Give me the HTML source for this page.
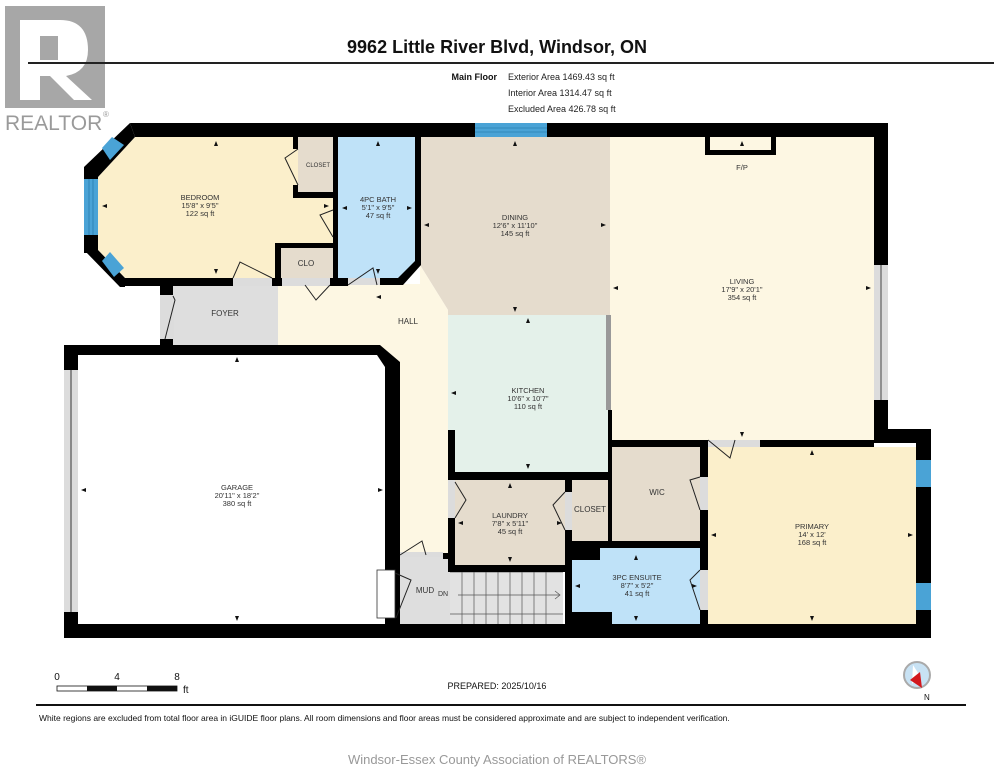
<!DOCTYPE html>
<html><head><meta charset="utf-8"><style>
html,body{margin:0;padding:0;background:#fff;}
svg{display:block;font-family:"Liberation Sans",Arial,sans-serif;}
.l{font-size:7.5px;fill:#333;text-anchor:middle;}
</style></head><body>
<svg width="994" height="768" viewBox="0 0 994 768" xmlns="http://www.w3.org/2000/svg">
<!-- logo -->
<rect x="5" y="6" width="100" height="102" fill="#a7a7a7"/>
<path d="M20,20 H60 Q88,20 88,50 Q88,72 66,76 L92,100 H74 L50,76 H40 V100 H20 Z" fill="#fff"/>
<rect x="40" y="36" width="18" height="24" fill="#a7a7a7"/>
<text x="5" y="130" font-size="21" fill="#9a9a9a">REALTOR</text><text x="103" y="117" font-size="8" fill="#9a9a9a">®</text>
<!-- header -->
<text x="497" y="53" font-size="18" font-weight="bold" text-anchor="middle" fill="#111">9962 Little River Blvd, Windsor, ON</text>
<rect x="28" y="62" width="966" height="2" fill="#222"/>
<text x="497" y="80" font-size="9" font-weight="bold" text-anchor="end" fill="#111">Main Floor</text>
<text x="508" y="80" font-size="9" fill="#222">Exterior Area 1469.43 sq ft</text>
<text x="508" y="96" font-size="9" fill="#222">Interior Area 1314.47 sq ft</text>
<text x="508" y="112" font-size="9" fill="#222">Excluded Area 426.78 sq ft</text>

<!-- room fills -->
<polygon points="135,137 333,137 333,278 125,278 98,250 98,177" fill="#fbefcb"/>
<rect x="298" y="137" width="35" height="58" fill="#e5dccd"/>
<polygon points="338,137 415,137 415,263 400,278 338,278" fill="#bfe2f8"/>
<rect x="281" y="248" width="52" height="30" fill="#e5dccd"/>
<polygon points="420,137 610,137 610,315 448,315 448,310 420,265" fill="#e5dccd"/>
<polygon points="278,284 420,284 420,265 448,310 448,555 400,555 400,365 380,345 278,345" fill="#fdf7e3"/>
<rect x="160" y="284" width="118" height="61" fill="#dedede"/>
<rect x="448" y="315" width="160" height="157" fill="#e4f1ea"/>
<rect x="610" y="137" width="264" height="303" fill="#fdf7e3"/>
<rect x="455" y="480" width="110" height="85" fill="#e5dccd"/>
<rect x="572" y="480" width="36" height="65" fill="#e5dccd"/>
<rect x="612" y="447" width="88" height="95" fill="#e5dccd"/>
<rect x="708" y="447" width="208" height="177" fill="#fbefcb"/>
<rect x="572" y="548" width="128" height="76" fill="#bfe2f8"/>
<rect x="400" y="555" width="50" height="69" fill="#dedede"/>
<rect x="450" y="572" width="113" height="52" fill="#e2e2e2"/>
<rect x="78" y="355" width="307" height="269" fill="#fff"/>
<!-- door openings (light gray) -->
<g fill="#dcdcdc">
<rect x="233" y="278" width="39" height="8"/><rect x="282" y="278" width="48" height="8"/><rect x="348" y="278" width="32" height="7"/>
<rect x="160" y="295" width="14" height="44"/><rect x="708" y="440" width="52" height="7"/>
<rect x="565" y="492" width="7" height="38"/><rect x="700" y="477" width="8" height="33"/><rect x="700" y="570" width="8" height="40"/>
<rect x="448" y="480" width="7" height="38"/><rect x="400" y="552" width="43" height="5"/><rect x="333" y="247" width="5" height="-0"/>
</g>
<!-- stairs -->
<g stroke="#555" stroke-width="0.7">
<line x1="450" y1="572" x2="563" y2="572"/><line x1="450" y1="614" x2="563" y2="614"/>
<line x1="462" y1="572" x2="462" y2="624"/><line x1="474" y1="572" x2="474" y2="624"/><line x1="486" y1="572" x2="486" y2="624"/><line x1="498" y1="572" x2="498" y2="624"/><line x1="510" y1="572" x2="510" y2="624"/><line x1="522" y1="572" x2="522" y2="624"/><line x1="534" y1="572" x2="534" y2="624"/><line x1="546" y1="572" x2="546" y2="624"/>
<line x1="458" y1="595" x2="560" y2="595"/><polyline points="555,591 560,595 555,599" fill="none"/>
</g>

<!-- walls -->
<g fill="#000">
<polygon points="130,123 888,123 888,137 135,137"/>
<polygon points="130,123 135,137 98,177 84,167"/>
<rect x="84" y="167" width="14" height="86"/>
<polygon points="84,250 98,250 125,278 125,287 120,287"/>
<rect x="120" y="278" width="113" height="8"/>
<rect x="272" y="278" width="10" height="8"/>
<rect x="275" y="243" width="63" height="5"/><rect x="275" y="243" width="6" height="43"/>
<rect x="330" y="278" width="18" height="8"/>
<rect x="333" y="137" width="5" height="110"/><rect x="333" y="237" width="5" height="48"/>
<rect x="293" y="137" width="5" height="12"/><rect x="293" y="185" width="5" height="13"/><rect x="293" y="192" width="45" height="6"/>
<rect x="380" y="278" width="23" height="7"/>
<polygon points="415,137 421,137 421,265 403,285 398,278 415,261"/>
<rect x="160" y="284" width="13" height="11"/><rect x="160" y="339" width="13" height="6"/>
<polygon points="64,345 380,345 400,362 400,555 385,555 385,367 377,355 64,355"/>
<rect x="64" y="345" width="14" height="25"/><rect x="64" y="612" width="14" height="12"/>
<rect x="64" y="624" width="867" height="14"/>
<rect x="874" y="123" width="14" height="142"/><rect x="874" y="400" width="14" height="40"/>
<rect x="874" y="429" width="57" height="14"/>
<rect x="916" y="429" width="15" height="31"/><rect x="916" y="487" width="15" height="96"/><rect x="916" y="610" width="15" height="20"/>
<rect x="608" y="440" width="100" height="7"/><rect x="760" y="440" width="114" height="7"/>
<rect x="608" y="410" width="4" height="135"/>
<rect x="448" y="430" width="7" height="50"/><rect x="448" y="472" width="160" height="8"/>
<rect x="448" y="518" width="7" height="54"/><rect x="448" y="565" width="117" height="7"/>
<rect x="565" y="480" width="7" height="12"/><rect x="565" y="530" width="7" height="94"/>
<rect x="565" y="541" width="143" height="7"/><rect x="565" y="541" width="35" height="19"/>
<rect x="700" y="447" width="8" height="30"/><rect x="700" y="510" width="8" height="60"/><rect x="700" y="610" width="8" height="14"/>
<rect x="572" y="612" width="40" height="12"/>
<rect x="385" y="555" width="15" height="69"/><rect x="443" y="553" width="7" height="6"/>
<rect x="705" y="137" width="71" height="18"/>
</g>
<rect x="710" y="137" width="61" height="13" fill="#fdf7e3"/>
<!-- windows & openings -->
<g fill="#4aa3d6"><rect x="475" y="123" width="72" height="14"/><rect x="84" y="179" width="14" height="56"/>
<polygon points="102,148 112,137 124,145 110,160"/><polygon points="102,261 110,252 124,268 114,277"/>
<rect x="916" y="460" width="15" height="27"/><rect x="916" y="583" width="15" height="27"/></g>
<g stroke="#1d6fa0" stroke-width="0.6"><line x1="475" y1="128" x2="547" y2="128"/><line x1="475" y1="132" x2="547" y2="132"/><line x1="89" y1="179" x2="89" y2="235"/><line x1="93" y1="179" x2="93" y2="235"/></g>
<rect x="874" y="265" width="14" height="135" fill="#dcdcdc"/><line x1="881" y1="265" x2="881" y2="400" stroke="#444"/>
<rect x="64" y="370" width="14" height="242" fill="#dcdcdc"/><line x1="71" y1="370" x2="71" y2="612" stroke="#333"/>
<rect x="606" y="315" width="5" height="95" fill="#999"/>
<rect x="377" y="570" width="18" height="48" fill="#fff" stroke="#333" stroke-width="0.8"/>
<!-- doors -->
<g fill="none" stroke="#222" stroke-width="1">
<polyline points="233,278 240,262 272,278"/><polyline points="298,149 285,158 298,185"/>
<polyline points="333,210 320,215 333,237"/><polyline points="305,285 316,300 330,285"/>
<polyline points="348,285 373,268 377,285"/><polyline points="173,296 175,300 165,339"/>
<polyline points="400,555 422,541 426,555"/><polyline points="395,573 411,580 396,618"/>
<polyline points="455,482 466,500 455,518"/><polyline points="565,492 553,505 565,530"/>
<polyline points="700,477 690,480 700,510"/><polyline points="708,440 730,458 735,440"/>
<polyline points="700,570 690,580 700,610"/>
</g>
<!-- labels -->
<g class="l">
<text x="200" y="200">BEDROOM</text><text x="200" y="208">15'8" x 9'5"</text><text x="200" y="216">122 sq ft</text>
<text x="318" y="167" font-size="6">CLOSET</text>
<text x="378" y="202">4PC BATH</text><text x="378" y="210">5'1" x 9'5"</text><text x="378" y="218">47 sq ft</text>
<text x="515" y="220">DINING</text><text x="515" y="228">12'6" x 11'10"</text><text x="515" y="236">145 sq ft</text>
<text x="306" y="266" font-size="8">CLO</text>
<text x="225" y="316" font-size="8">FOYER</text>
<text x="408" y="324" font-size="8">HALL</text>
<text x="742" y="284">LIVING</text><text x="742" y="292">17'9" x 20'1"</text><text x="742" y="300">354 sq ft</text>
<text x="742" y="170">F/P</text>
<text x="528" y="393">KITCHEN</text><text x="528" y="401">10'6" x 10'7"</text><text x="528" y="409">110 sq ft</text>
<text x="237" y="490">GARAGE</text><text x="237" y="498">20'11" x 18'2"</text><text x="237" y="506">380 sq ft</text>
<text x="510" y="518">LAUNDRY</text><text x="510" y="526">7'8" x 5'11"</text><text x="510" y="534">45 sq ft</text>
<text x="590" y="512" font-size="8">CLOSET</text>
<text x="657" y="495" font-size="8">WIC</text>
<text x="812" y="529">PRIMARY</text><text x="812" y="537">14' x 12'</text><text x="812" y="545">168 sq ft</text>
<text x="637" y="580">3PC ENSUITE</text><text x="637" y="588">8'7" x 5'2"</text><text x="637" y="596">41 sq ft</text>
<text x="425" y="593" font-size="8">MUD</text><text x="443" y="596" font-size="7">DN</text>
</g>
<!-- dimension arrows -->
<g fill="#111">
<path d="M216,141l-2,5h4z"/><path d="M216,274l-2,-5h4z"/><path d="M102,206l5,-2v4z"/><path d="M329,206l-5,-2v4z"/>
<path d="M378,141l-2,5h4z"/><path d="M378,274l-2,-5h4z"/><path d="M342,208l5,-2v4z"/><path d="M412,208l-5,-2v4z"/>
<path d="M515,141l-2,5h4z"/><path d="M515,312l-2,-5h4z"/><path d="M424,225l5,-2v4z"/><path d="M606,225l-5,-2v4z"/>
<path d="M742,141l-2,5h4z"/><path d="M742,437l-2,-5h4z"/><path d="M613,288l5,-2v4z"/><path d="M871,288l-5,-2v4z"/>
<path d="M528,318l-2,5h4z"/><path d="M528,469l-2,-5h4z"/><path d="M451,393l5,-2v4z"/>
<path d="M237,357l-2,5h4z"/><path d="M237,621l-2,-5h4z"/><path d="M81,490l5,-2v4z"/><path d="M383,490l-5,-2v4z"/>
<path d="M510,483l-2,5h4z"/><path d="M510,562l-2,-5h4z"/><path d="M458,523l5,-2v4z"/><path d="M562,523l-5,-2v4z"/>
<path d="M812,450l-2,5h4z"/><path d="M812,621l-2,-5h4z"/><path d="M711,535l5,-2v4z"/><path d="M913,535l-5,-2v4z"/>
<path d="M636,555l-2,5h4z"/><path d="M636,621l-2,-5h4z"/><path d="M575,586l5,-2v4z"/><path d="M697,586l-5,-2v4z"/>
<path d="M376,297l5,-2v4z"/>
</g>
<!-- footer -->
<text x="57" y="680" font-size="10" text-anchor="middle" fill="#111">0</text>
<text x="117" y="680" font-size="10" text-anchor="middle" fill="#111">4</text>
<text x="177" y="680" font-size="10" text-anchor="middle" fill="#111">8</text>
<rect x="57" y="686" width="120" height="5" fill="#fff" stroke="#111" stroke-width="0.8"/>
<rect x="87" y="686" width="30" height="5" fill="#111"/><rect x="147" y="686" width="30" height="5" fill="#111"/>
<text x="183" y="693" font-size="10" fill="#111">ft</text>
<text x="497" y="689" font-size="9" text-anchor="middle" fill="#111">PREPARED: 2025/10/16</text>
<circle cx="917" cy="675" r="13" fill="#c8e2f4" stroke="#aaa" stroke-width="2"/>
<polygon points="913,665 920,676 912,684" fill="#fff"/><polygon points="920,672 922,688 910,680" fill="#d2181e"/>
<text x="924" y="700" font-size="8" fill="#111">N</text>
<rect x="36" y="704" width="930" height="2" fill="#111"/>
<text x="39" y="721" font-size="8.5" fill="#111">White regions are excluded from total floor area in iGUIDE floor plans. All room dimensions and floor areas must be considered approximate and are subject to independent verification.</text>
<text x="497" y="764" font-size="13" text-anchor="middle" fill="#999">Windsor-Essex County Association of REALTORS®</text>
</svg>
</body></html>
